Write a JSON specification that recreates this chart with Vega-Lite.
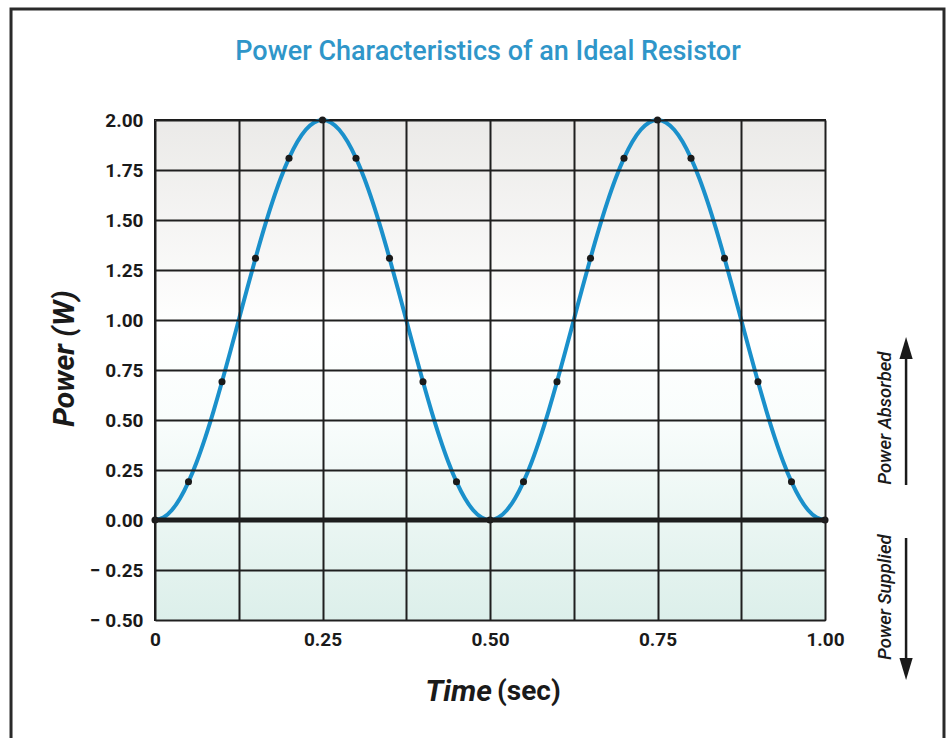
{
  "$schema": "https://vega.github.io/schema/vega-lite/v6.json",
  "width": 670,
  "height": 500,
  "autosize": "none",
  "padding": {"left": 155, "top": 120, "right": 123, "bottom": 118},
  "background": "white",
  "config": {
    "font": "Roboto",
    "view": {"stroke": "#1a1a1a", "strokeWidth": 2}
  },
  "datasets": {
    "curve": [
      {"t": 0, "p": 0}, {"t": 0.0125, "p": 0.0123}, {"t": 0.025, "p": 0.0489}, {"t": 0.0375, "p": 0.109},
      {"t": 0.05, "p": 0.191}, {"t": 0.0625, "p": 0.2929}, {"t": 0.075, "p": 0.4122}, {"t": 0.0875, "p": 0.546},
      {"t": 0.1, "p": 0.691}, {"t": 0.1125, "p": 0.8436}, {"t": 0.125, "p": 1.0}, {"t": 0.1375, "p": 1.1564},
      {"t": 0.15, "p": 1.309}, {"t": 0.1625, "p": 1.454}, {"t": 0.175, "p": 1.5878}, {"t": 0.1875, "p": 1.7071},
      {"t": 0.2, "p": 1.809}, {"t": 0.2125, "p": 1.891}, {"t": 0.225, "p": 1.9511}, {"t": 0.2375, "p": 1.9877},
      {"t": 0.25, "p": 2.0}, {"t": 0.2625, "p": 1.9877}, {"t": 0.275, "p": 1.9511}, {"t": 0.2875, "p": 1.891},
      {"t": 0.3, "p": 1.809}, {"t": 0.3125, "p": 1.7071}, {"t": 0.325, "p": 1.5878}, {"t": 0.3375, "p": 1.454},
      {"t": 0.35, "p": 1.309}, {"t": 0.3625, "p": 1.1564}, {"t": 0.375, "p": 1.0}, {"t": 0.3875, "p": 0.8436},
      {"t": 0.4, "p": 0.691}, {"t": 0.4125, "p": 0.546}, {"t": 0.425, "p": 0.4122}, {"t": 0.4375, "p": 0.2929},
      {"t": 0.45, "p": 0.191}, {"t": 0.4625, "p": 0.109}, {"t": 0.475, "p": 0.0489}, {"t": 0.4875, "p": 0.0123},
      {"t": 0.5, "p": 0}, {"t": 0.5125, "p": 0.0123}, {"t": 0.525, "p": 0.0489}, {"t": 0.5375, "p": 0.109},
      {"t": 0.55, "p": 0.191}, {"t": 0.5625, "p": 0.2929}, {"t": 0.575, "p": 0.4122}, {"t": 0.5875, "p": 0.546},
      {"t": 0.6, "p": 0.691}, {"t": 0.6125, "p": 0.8436}, {"t": 0.625, "p": 1.0}, {"t": 0.6375, "p": 1.1564},
      {"t": 0.65, "p": 1.309}, {"t": 0.6625, "p": 1.454}, {"t": 0.675, "p": 1.5878}, {"t": 0.6875, "p": 1.7071},
      {"t": 0.7, "p": 1.809}, {"t": 0.7125, "p": 1.891}, {"t": 0.725, "p": 1.9511}, {"t": 0.7375, "p": 1.9877},
      {"t": 0.75, "p": 2.0}, {"t": 0.7625, "p": 1.9877}, {"t": 0.775, "p": 1.9511}, {"t": 0.7875, "p": 1.891},
      {"t": 0.8, "p": 1.809}, {"t": 0.8125, "p": 1.7071}, {"t": 0.825, "p": 1.5878}, {"t": 0.8375, "p": 1.454},
      {"t": 0.85, "p": 1.309}, {"t": 0.8625, "p": 1.1564}, {"t": 0.875, "p": 1.0}, {"t": 0.8875, "p": 0.8436},
      {"t": 0.9, "p": 0.691}, {"t": 0.9125, "p": 0.546}, {"t": 0.925, "p": 0.4122}, {"t": 0.9375, "p": 0.2929},
      {"t": 0.95, "p": 0.191}, {"t": 0.9625, "p": 0.109}, {"t": 0.975, "p": 0.0489}, {"t": 0.9875, "p": 0.0123},
      {"t": 1.0, "p": 0}
    ],
    "dots": [
      {"t": 0, "p": 0}, {"t": 0.05, "p": 0.191}, {"t": 0.1, "p": 0.691}, {"t": 0.15, "p": 1.309},
      {"t": 0.2, "p": 1.809}, {"t": 0.25, "p": 2.0}, {"t": 0.3, "p": 1.809}, {"t": 0.35, "p": 1.309},
      {"t": 0.4, "p": 0.691}, {"t": 0.45, "p": 0.191}, {"t": 0.5, "p": 0}, {"t": 0.55, "p": 0.191},
      {"t": 0.6, "p": 0.691}, {"t": 0.65, "p": 1.309}, {"t": 0.7, "p": 1.809}, {"t": 0.75, "p": 2.0},
      {"t": 0.8, "p": 1.809}, {"t": 0.85, "p": 1.309}, {"t": 0.9, "p": 0.691}, {"t": 0.95, "p": 0.191},
      {"t": 1.0, "p": 0}
    ]
  },
  "layer": [
    {
      "data": {"values": [{}]},
      "mark": {
        "type": "rect",
        "zindex": 0,
        "color": {
          "gradient": "linear",
          "x1": 0, "y1": 0, "x2": 0, "y2": 1,
          "stops": [
            {"offset": 0, "color": "#ebeae8"},
            {"offset": 0.42, "color": "#ffffff"},
            {"offset": 0.6, "color": "#f9fdfc"},
            {"offset": 1, "color": "#dcefea"}
          ]
        }
      },
      "encoding": {
        "x": {"datum": 0, "type": "quantitative", "scale": {"domain": [0, 1], "nice": false, "zero": false}},
        "x2": {"datum": 1},
        "y": {"datum": -0.5, "type": "quantitative", "scale": {"domain": [-0.5, 2], "nice": false}},
        "y2": {"datum": 2}
      }
    },
    {
      "data": {"name": "curve"},
      "mark": {"type": "line", "color": "#1a90cb", "strokeWidth": 4, "interpolate": "monotone", "zindex": 3},
      "encoding": {
        "x": {
          "field": "t",
          "type": "quantitative",
          "title": null,
          "axis": {
            "zindex": 1,
            "values": [0, 0.125, 0.25, 0.375, 0.5, 0.625, 0.75, 0.875, 1],
            "labelExpr": "datum.value == 0 ? '0' : (datum.value * 4 % 1 == 0 ? format(datum.value, '.2f') : '')",
            "grid": true,
            "gridColor": "#1f1f1f",
            "gridWidth": 2,
            "gridOpacity": 1,
            "ticks": false,
            "domain": false,
            "labelFontSize": 19,
            "labelFontWeight": "bold",
            "labelColor": "#1a1a1a",
            "labelPadding": 10,
            "labelFlush": false
          }
        },
        "y": {
          "field": "p",
          "type": "quantitative",
          "title": "Power (W)",
          "axis": {
            "zindex": 1,
            "values": [-0.5, -0.375, -0.25, -0.125, 0, 0.125, 0.25, 0.375, 0.5, 0.625, 0.75, 0.875, 1, 1.125, 1.25, 1.375, 1.5, 1.625, 1.75, 1.875, 2],
            "labelExpr": "datum.value * 4 % 1 != 0 ? '' : (datum.value < 0 ? '\u2212 ' + format(-datum.value, '.2f') : format(datum.value, '.2f'))",
            "grid": true,
            "gridColor": "#1f1f1f",
            "gridWidth": 2,
            "gridOpacity": 1,
            "ticks": false,
            "domain": false,
            "labelFontSize": 19,
            "labelFontWeight": "bold",
            "labelColor": "#1a1a1a",
            "labelPadding": 12,
            "labelFlush": false,
            "titleFontSize": 30,
            "titleFontStyle": "italic",
            "titleFontWeight": "bold",
            "titleColor": "#1a1a1a",
            "titleY": 238,
            "titlePadding": 10
          }
        }
      }
    },
    {
      "data": {"values": [{}]},
      "mark": {"type": "rule", "color": "#1a1a1a", "strokeWidth": 5, "zindex": 2},
      "encoding": {
        "x": {"datum": 0, "type": "quantitative"},
        "x2": {"datum": 1},
        "y": {"datum": 0, "type": "quantitative"}
      }
    },
    {
      "data": {"name": "dots"},
      "mark": {"type": "circle", "color": "#1a1a1a", "opacity": 1, "size": 50, "zindex": 4},
      "encoding": {
        "x": {"field": "t", "type": "quantitative"},
        "y": {"field": "p", "type": "quantitative"}
      }
    },
    {
      "data": {"values": [{}]},
      "mark": {"type": "text", "text": "Power Characteristics of an Ideal Resistor", "align": "center", "baseline": "middle", "fontSize": 27, "fontWeight": 500, "color": "#2f96c9"},
      "encoding": {
        "x": {"datum": 0.497, "type": "quantitative"},
        "y": {"datum": 2.34, "type": "quantitative"}
      }
    },
    {
      "data": {"values": [{}]},
      "mark": {"type": "text", "text": "Time", "align": "right", "baseline": "middle", "fontSize": 30, "fontStyle": "italic", "fontWeight": "bold", "color": "#1a1a1a"},
      "encoding": {
        "x": {"datum": 0.503, "type": "quantitative"},
        "y": {"datum": -0.86, "type": "quantitative"}
      }
    },
    {
      "data": {"values": [{}]},
      "mark": {"type": "text", "text": "(sec)", "align": "left", "baseline": "middle", "fontSize": 28, "fontWeight": "bold", "color": "#1a1a1a", "dx": 5},
      "encoding": {
        "x": {"datum": 0.503, "type": "quantitative"},
        "y": {"datum": -0.86, "type": "quantitative"}
      }
    },
    {
      "data": {"values": [{}]},
      "mark": {"type": "text", "text": "Power Absorbed", "angle": 270, "align": "center", "baseline": "middle", "fontSize": 18.5, "fontStyle": "italic", "fontWeight": 500, "color": "#1a1a1a"},
      "encoding": {
        "x": {"datum": 1.0896, "type": "quantitative"},
        "y": {"datum": 0.51, "type": "quantitative"}
      }
    },
    {
      "data": {"values": [{}]},
      "mark": {"type": "text", "text": "Power Supplied", "angle": 270, "align": "center", "baseline": "middle", "fontSize": 18.5, "fontStyle": "italic", "fontWeight": 500, "color": "#1a1a1a"},
      "encoding": {
        "x": {"datum": 1.0896, "type": "quantitative"},
        "y": {"datum": -0.385, "type": "quantitative"}
      }
    },
    {
      "data": {"values": [{}]},
      "mark": {"type": "rule", "color": "#1a1a1a", "strokeWidth": 2.5},
      "encoding": {
        "x": {"datum": 1.121, "type": "quantitative"},
        "y": {"datum": 0.175, "type": "quantitative"},
        "y2": {"datum": 0.86}
      }
    },
    {
      "data": {"values": [{}]},
      "mark": {"type": "point", "shape": "M-0.6,1L0,-1L0.6,1Z", "filled": true, "color": "#1a1a1a", "opacity": 1, "size": 484},
      "encoding": {
        "x": {"datum": 1.121, "type": "quantitative"},
        "y": {"datum": 0.86, "type": "quantitative"}
      }
    },
    {
      "data": {"values": [{}]},
      "mark": {"type": "rule", "color": "#1a1a1a", "strokeWidth": 2.5},
      "encoding": {
        "x": {"datum": 1.121, "type": "quantitative"},
        "y": {"datum": -0.09, "type": "quantitative"},
        "y2": {"datum": -0.745}
      }
    },
    {
      "data": {"values": [{}]},
      "mark": {"type": "point", "shape": "M-0.6,-1L0,1L0.6,-1Z", "filled": true, "color": "#1a1a1a", "opacity": 1, "size": 484},
      "encoding": {
        "x": {"datum": 1.121, "type": "quantitative"},
        "y": {"datum": -0.745, "type": "quantitative"}
      }
    },
    {
      "data": {"values": [{}]},
      "mark": {"type": "rect", "fill": null, "filled": false, "stroke": "#2a2a2a", "strokeWidth": 3},
      "encoding": {
        "x": {"datum": -0.2149, "type": "quantitative"},
        "x2": {"datum": 1.1776},
        "y": {"datum": 2.555, "type": "quantitative"},
        "y2": {"datum": -1.2}
      }
    }
  ]
}
